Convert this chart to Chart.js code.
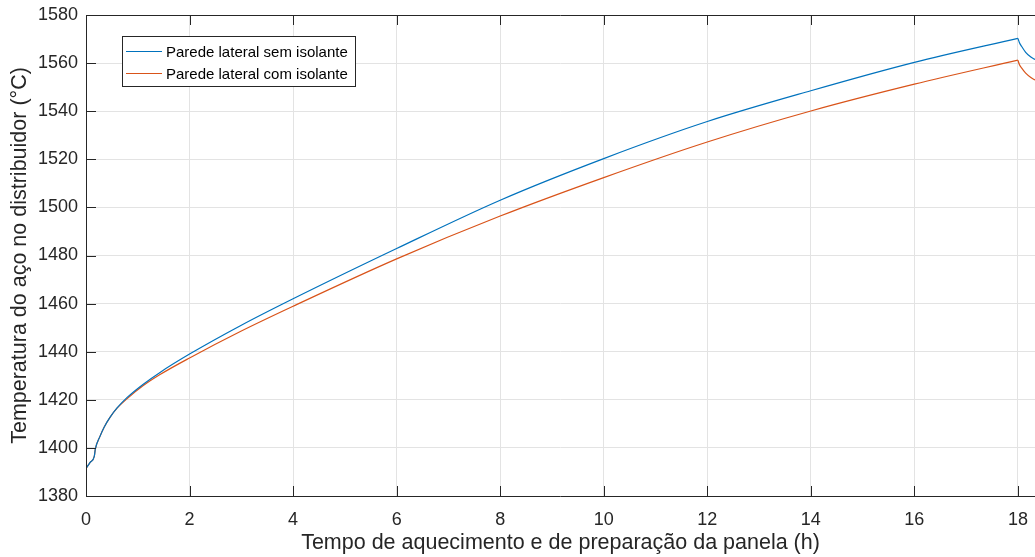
<!DOCTYPE html>
<html>
<head>
<meta charset="utf-8">
<script src="https://cdn.jsdelivr.net/npm/chart.js@4.4.1/dist/chart.umd.min.js"></script>
<style>
  html, body { margin: 0; padding: 0; background: #ffffff; }
  #wrap { width: 1035px; height: 557px; position: relative; }
</style>
</head>
<body>
<div id="wrap"><canvas id="c" width="1035" height="557"></canvas></div>
<script>
// ---- data ----
const timeH = [0, 0.08, 0.16, 0.18, 0.27, 0.35, 0.46, 0.6, 0.79, 1.1, 1.43, 2, 3, 4, 6, 8, 10, 12, 14, 16, 18, 18.03, 18.07, 18.15, 18.25, 18.33];
const semIsolante = [1391.5, 1394, 1396.5, 1399.5, 1404.8, 1408.6, 1412.6, 1416.6, 1420.9, 1426.4, 1431.4, 1439.0, 1451.0, 1462.0, 1482.9, 1503.0, 1520.3, 1535.7, 1548.5, 1560.3, 1570.3, 1568.5, 1567.0, 1564.5, 1562.5, 1561.5];
const comIsolante = [1391.5, 1394, 1396.5, 1399.5, 1404.8, 1408.6, 1412.6, 1416.5, 1420.4, 1425.8, 1430.5, 1437.4, 1448.6, 1458.9, 1478.6, 1496.4, 1512.4, 1527.2, 1540.1, 1551.25, 1561.25, 1559.3, 1558.0, 1555.8, 1554.0, 1553.0];
const seriesLabels = ["Parede lateral sem isolante", "Parede lateral com isolante"];
const xTicks = [0, 2, 4, 6, 8, 10, 12, 14, 16, 18];
const yTicks = [1380, 1400, 1420, 1440, 1460, 1480, 1500, 1520, 1540, 1560, 1580];
const xTitle = "Tempo de aquecimento e de preparação da panela (h)";
const yTitle = "Temperatura do aço no distribuidor (°C)";
const peakTime = 18; // heating ends here, curve turns sharply

const FONT = "'Liberation Sans', Arial, Helvetica, sans-serif";
const TXT = "#262626";
const BLUE = "#0072BD";
const ORANGE = "#D95319";

function pts(xs, ys, from, to) {
  const out = [];
  xs.forEach((x, i) => { if (x >= from && x <= to) out.push({ x: x, y: ys[i] }); });
  return out;
}

const framePlugin = {
  id: 'frame',
  afterDatasetsDraw(chart) {
    const ctx = chart.ctx;
    const a = chart.chartArea;
    const xs = chart.scales.x, ys = chart.scales.y;
    ctx.save();
    ctx.strokeStyle = TXT;
    ctx.lineWidth = 1;
    ctx.beginPath();
    ctx.moveTo(a.left + 0.5, a.top + 0.5); ctx.lineTo(a.left + 0.5, a.bottom + 0.5);
    ctx.moveTo(a.left, a.bottom + 0.5); ctx.lineTo(a.right, a.bottom + 0.5);
    ctx.moveTo(a.left, a.top + 0.5); ctx.lineTo(a.right, a.top + 0.5);
    const L = 10;
    xTicks.forEach(v => {
      const px = Math.round(xs.getPixelForValue(v)) + 0.5;
      ctx.moveTo(px, a.bottom); ctx.lineTo(px, a.bottom - L);
      ctx.moveTo(px, a.top); ctx.lineTo(px, a.top + L);
    });
    yTicks.forEach(v => {
      const py = Math.round(ys.getPixelForValue(v)) + 0.5;
      ctx.moveTo(a.left, py); ctx.lineTo(a.left + L, py);
    });
    ctx.stroke();

    // legend box
    const bx = 122.5, by = 36.5, bw = 233, bh = 50;
    ctx.fillStyle = '#ffffff';
    ctx.fillRect(bx, by, bw, bh);
    ctx.strokeStyle = TXT;
    ctx.strokeRect(bx, by, bw, bh);
    ctx.font = "15px " + FONT;
    ctx.textBaseline = 'middle';
    ctx.textAlign = 'left';
    chart.data.datasets.slice(0, 2).forEach((ds, i) => {
      const cy = Math.round(by + 14 + i * 22) + 0.5;
      ctx.strokeStyle = ds.borderColor;
      ctx.lineWidth = 1;
      ctx.beginPath();
      ctx.moveTo(126, cy); ctx.lineTo(162, cy);
      ctx.stroke();
      ctx.fillStyle = '#000000';
      ctx.fillText(ds.label, 166, cy + 1);
    });
    ctx.restore();
  }
};

const lineOpts = { showLine: true, borderWidth: 1.2, pointRadius: 0, cubicInterpolationMode: 'monotone' };

new Chart(document.getElementById('c'), {
  type: 'scatter',
  data: {
    datasets: [
      Object.assign({ label: seriesLabels[0], data: pts(timeH, semIsolante, 0, peakTime), borderColor: BLUE, backgroundColor: BLUE }, lineOpts),
      Object.assign({ label: seriesLabels[1], data: pts(timeH, comIsolante, 0, peakTime), borderColor: ORANGE, backgroundColor: ORANGE }, lineOpts),
      Object.assign({ label: seriesLabels[0] + ' ', data: pts(timeH, semIsolante, peakTime, 99), borderColor: BLUE, backgroundColor: BLUE }, lineOpts),
      Object.assign({ label: seriesLabels[1] + ' ', data: pts(timeH, comIsolante, peakTime, 99), borderColor: ORANGE, backgroundColor: ORANGE }, lineOpts)
    ]
  },
  options: {
    responsive: false,
    animation: false,
    events: [],
    layout: { padding: { top: 15, right: 0, left: 0, bottom: 0 } },
    plugins: { legend: { display: false }, tooltip: { enabled: false } },
    scales: {
      x: {
        type: 'linear', min: 0, max: 18.33,
        afterBuildTicks: s => { s.ticks = xTicks.map(v => ({ value: v })); },
        afterFit: s => { s.height = 61; s.paddingLeft = 0; s.paddingRight = 0; },
        grid: { color: '#e3e3e3', drawTicks: false, lineWidth: 1 },
        border: { display: false },
        ticks: { color: TXT, font: { family: FONT, size: 18 }, padding: 13, maxRotation: 0, autoSkip: false, callback: v => String(v) },
        title: { display: true, text: xTitle, color: TXT, font: { family: FONT, size: 21.5 }, padding: { top: 0, bottom: 1 } }
      },
      y: {
        type: 'linear', min: 1380, max: 1580,
        afterBuildTicks: s => { s.ticks = yTicks.map(v => ({ value: v })); },
        afterFit: s => { s.width = 86; s.paddingTop = 0; s.paddingBottom = 0; },
        grid: { color: '#e3e3e3', drawTicks: false, lineWidth: 1 },
        border: { display: false },
        ticks: { color: TXT, font: { family: FONT, size: 18 }, padding: 8, callback: v => String(v) },
        title: { display: true, text: yTitle, color: TXT, font: { family: FONT, size: 21.5 }, padding: { top: 7, bottom: 0 } }
      }
    }
  },
  plugins: [framePlugin]
});
</script>
</body>
</html>
